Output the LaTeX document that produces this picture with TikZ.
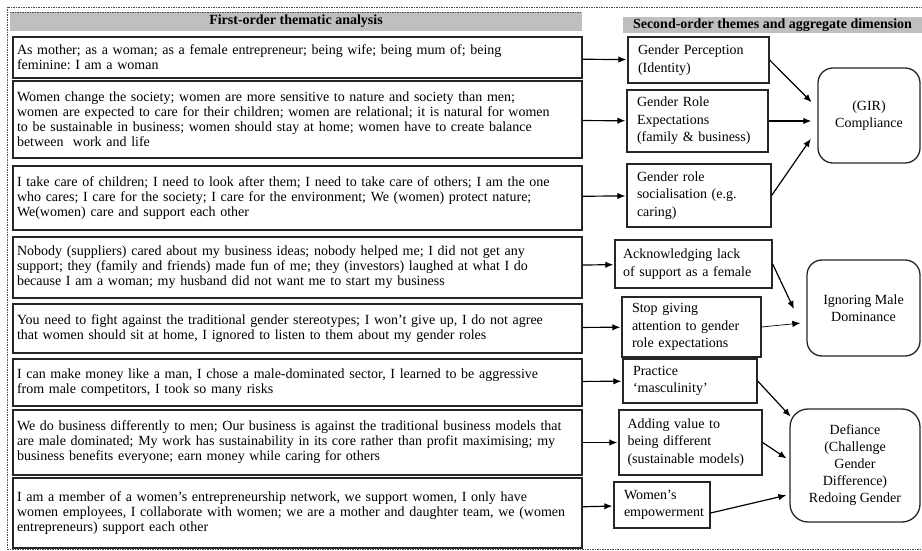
\documentclass[tikz,border=0pt]{standalone}
\usepackage{fontspec}
\setmainfont{Liberation Serif}
\usetikzlibrary{arrows.meta}
\frenchspacing

\begin{document}
\begin{tikzpicture}[x=1pt,y=-1pt,>={Latex[length=8pt,width=6.5pt]},shorten >=1pt,node distance=400pt,
  quote/.style={draw=black!85,line width=1.6pt,align=left,text width=561pt,inner xsep=4pt,inner ysep=4pt,font=\fontsize{14}{15}\selectfont},
  theme/.style={draw=black!85,line width=1.3pt,align=left,inner xsep=10pt,inner ysep=4pt,font=\fontsize{14}{17.5}\selectfont},
  dimension/.style={draw=black!85,line width=1.3pt,rounded corners=15pt,align=center,font=\fontsize{14}{17}\selectfont},
  band/.style={fill=gray!50,inner sep=0pt,font=\bfseries\fontsize{14}{15}\selectfont}]

\useasboundingbox (0,0) rectangle (922,551);
\draw[black!70,dash pattern=on 1.5pt off 1pt] (925,7) -- (7,7) -- (7,549) -- (925,549);

\node[band,minimum width=572pt,minimum height=19pt] (h1) at (296,21.5) {First-order thematic analysis};
 \node[band,minimum width=299pt,minimum height=16pt] (h2) at (772.5,25) {Second-order themes and aggregate dimension};
\draw[gray!60!black,dash pattern=on 1.5pt off 1pt] (h1.north west) -- (h1.north east);

\node[quote,minimum height=41pt] (l1) at (297.5,57.5) {As mother; as a woman; as a female entrepreneur; being wife; being mum of; being\\feminine: I am a woman};
\node[quote,minimum height=77pt] (l2) at (297.5,119.5) {Women change the society; women are more sensitive to nature and society than men;\\women are expected to care for their children; women are relational; it is natural for women\\to be sustainable in business; women should stay at home; women have to create balance\\between\ \ work and life};
\node[quote,minimum height=64pt] (l3) at (297.5,198) {I take care of children; I need to look after them; I need to take care of others; I am the one\\who cares; I care for the society; I care for the environment; We (women) protect nature;\\We(women) care and support each other};
\node[quote,minimum height=61pt] (l4) at (297.5,267.5) {Nobody (suppliers) cared about my business ideas; nobody helped me; I did not get any\\support; they (family and friends) made fun of me; they (investors) laughed at what I do\\because I am a woman; my husband did not want me to start my business};
\node[quote,minimum height=49pt] (l5) at (297.5,328.5) {You need to fight against the traditional gender stereotypes; I won’t give up, I do not agree\\that women should sit at home, I ignored to listen to them about my gender roles};
\node[quote,minimum height=47pt] (l6) at (297.5,382.5) {I can make money like a man, I chose a male-dominated sector, I learned to be aggressive\\from male competitors, I took so many risks};
\node[quote,minimum height=65pt] (l7) at (297.5,442.5) {We do business differently to men; Our business is against the traditional business models that\\are male dominated; My work has sustainability in its core rather than profit maximising; my\\business benefits everyone; earn money while caring for others};
\node[quote,minimum height=70pt] (l8) at (297.5,513) {I am a member of a women’s entrepreneurship network, we support women, I only have\\women employees, I collaborate with women; we are a mother and daughter team, we (women\\entrepreneurs) support each other};

\node[theme,text width=121pt,minimum height=46pt] (gp) [right of=l1,node distance=401pt,yshift=-2.5pt] {Gender Perception\\(Identity)};
\node[theme,text width=121pt,minimum height=62pt] (gre) [right of=l2,yshift=-1.5pt] {Gender Role\\Expectations\\(family \& business)};
\node[theme,text width=124pt,minimum height=63pt] (grs) [right of=l3,node distance=401.5pt,yshift=2.5pt] {Gender role\\socialisation (e.g.\\caring)};
\node[theme,text width=141pt,inner xsep=8pt,minimum height=48pt] (ack) [right of=l4,node distance=396pt,yshift=3.5pt] {Acknowledging lack\\of support as a female};
\node[theme,text width=119pt,minimum height=60pt] (stop) [right of=l5,node distance=394pt,yshift=1.5pt] {Stop giving\\attention to gender\\role expectations};
\node[theme,text width=114pt,minimum height=44pt] (pract) [right of=l6,node distance=392.5pt,yshift=1.5pt] {Practice\\‘masculinity’};
\node[theme,text width=126pt,inner xsep=8.5pt,minimum height=65pt] (add) [right of=l7,node distance=393pt] {Adding value to\\being different\\(sustainable models)};
\node[theme,text width=76pt,inner xsep=10pt,minimum height=46pt] (we) [right of=l8,node distance=364.5pt,yshift=8pt] {Women’s\\empowerment};

\node[dimension,minimum width=102pt,minimum height=95pt] (comp) at (869,115.5) {(GIR)\\Compliance};
\node[dimension,minimum width=113pt,minimum height=96pt] (ign) at (863.5,308) {Ignoring Male\\Dominance};
\node[dimension,rounded corners=18pt,minimum width=130pt,minimum height=113pt] (def) at (855,465.5) {Defiance\\(Challenge\\Gender\\Difference)\\Redoing Gender};

\path[->,line width=1.2pt] (l1) edge (gp)
   (l2) edge (gre)
	(l3) edge (grs)
   (l4) edge (ack)
	(l5) edge (stop)
   (l6) edge (pract)
	(l7) edge (add)
   (l8) edge (we);

\path[->,line width=1.2pt] (gp.east) edge ([xshift=-5pt,yshift=12.5pt]comp.west)
   (gre.east) edge ([xshift=-5pt,yshift=-5.5pt]comp.west)
   (grs.east) edge ([xshift=-6pt,yshift=-22.5pt]comp.west)
	(ack.east) edge ([xshift=-12pt,yshift=-2pt]ign.west)
	(stop.east) edge[line width=0.7pt] ([xshift=-5pt,yshift=-15pt]ign.west)
   (pract.east) edge ([xshift=2pt,yshift=-9pt]def.north west)
	(add.east) edge ([xshift=-2pt,yshift=6.5pt]def.west)
	([yshift=-8pt]we.east) edge ([xshift=-2pt,yshift=-29.5pt]def.west);
\end{tikzpicture}
\end{document}
